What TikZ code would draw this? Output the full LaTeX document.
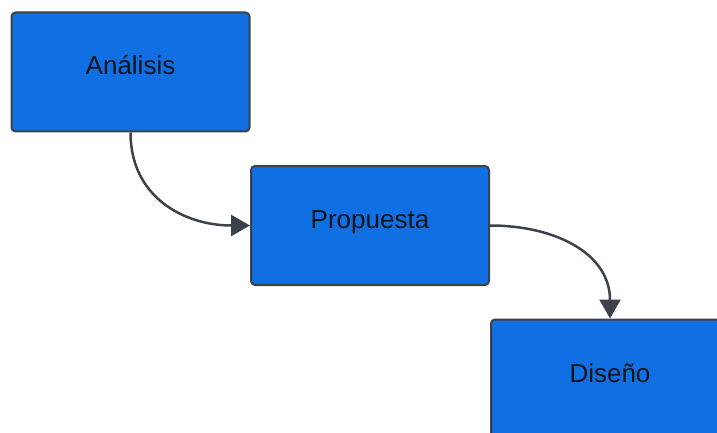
\documentclass[tikz,border=0pt]{standalone}
\usepackage{fontspec}
\setmainfont{Liberation Sans}
\usetikzlibrary{arrows.meta}

\definecolor{etapaazul}{HTML}{1070E3}
\definecolor{bordegris}{HTML}{3B424C}
\definecolor{textooscuro}{HTML}{111418}

\begin{document}
\begin{tikzpicture}[x=1pt,y=-1pt,
  etapa/.style={draw=bordegris, fill=etapaazul, line width=2pt, rounded corners=4pt,
    minimum width=238pt, minimum height=119pt, inner sep=0pt, text=textooscuro,
    font=\fontsize{26}{30}\selectfont, text height=0.85em, text depth=0.25em},
  flecha/.style={draw=bordegris, line width=2.5pt, -{Triangle[length=19pt,width=21pt]}}]
  \clip (0,0) rectangle (717,433);

  %% Etapas
  \node[etapa] (analisis) at (130.5,72) {Análisis};
  \node[etapa] (propuesta) at (370,225.5) {Propuesta};
  \node[etapa] (diseno) at (610,379) {Diseño};

  %% Flechas
  \draw[flecha] (analisis.south) to[out=-90,in=180,looseness=1.1] (propuesta.west);
  \draw[flecha] (propuesta.east) to[out=0,in=90,looseness=1.1] (diseno.north);
\end{tikzpicture}
\end{document}
